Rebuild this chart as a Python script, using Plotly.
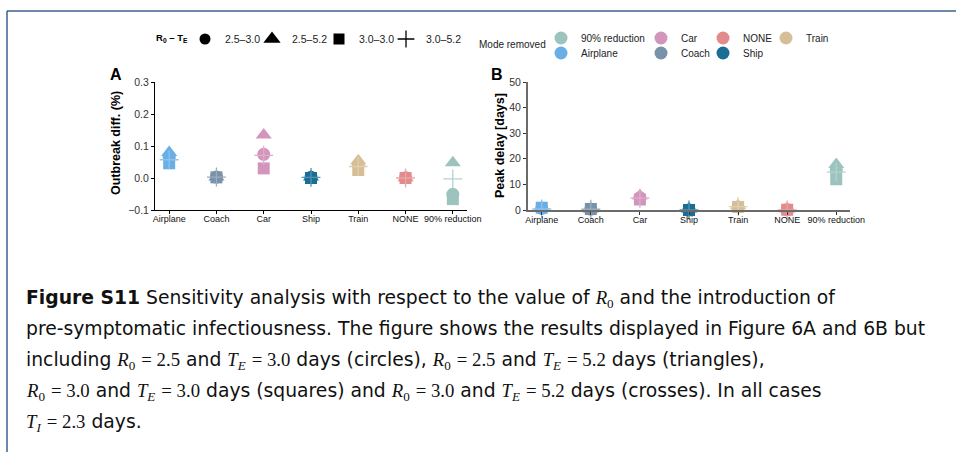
import plotly.graph_objects as go

W, H = 956, 452

categories = ["Airplane", "Coach", "Car", "Ship", "Train", "NONE", "90% reduction"]
mode_colors = {
    "90% reduction": "#9CC3BE",
    "Airplane": "#6AAEE6",
    "Car": "#D395BB",
    "Coach": "#7892AA",
    "NONE": "#E38A8C",
    "Ship": "#1A6E96",
    "Train": "#D6BF97",
}
scenarios = ["2.5–3.0", "2.5–5.2", "3.0–3.0", "3.0–5.2"]

# Panel A: outbreak difference (%)
outbreak_circle = [0.065, 0.003, 0.074, 0.002, 0.040, 0.001, -0.051]
outbreak_triangle = [0.080, 0.003, 0.134, 0.003, 0.054, 0.001, 0.048]
outbreak_square = [0.046, 0.002, 0.030, 0.000, 0.025, 0.000, -0.066]
outbreak_cross = [0.057, 0.003, 0.071, 0.002, 0.036, 0.000, -0.003]

# Panel B: peak delay (days)
delay_circle = [0.6, 0.3, 4.8, 0.0, 1.2, 0.1, 15.5]
delay_triangle = [1.0, 0.4, 5.6, 0.4, 1.7, 0.4, 17.8]
delay_square = [0.9, 0.4, 4.1, 0.0, 1.2, 0.1, 12.0]
delay_cross = [0.4, 0.3, 4.6, 0.0, 1.3, 0.0, 14.8]

yticks_a = [-0.1, 0.0, 0.1, 0.2, 0.3]
yticktext_a = ["−0.1", "0.0", "0.1", "0.2", "0.3"]
yticks_b = [0, 10, 20, 30, 40, 50]

FONT = "Liberation Sans, Arial, sans-serif"
CAPFONT = "DejaVu Sans, Liberation Sans, sans-serif"
SERIF = "Liberation Serif, DejaVu Serif, serif"

shape_styles = [
    ("circle", 13, 0),
    ("triangle-up", 14, 0),
    ("square", 12, 0),
    ("cross-thin", 13.5, 1.3),
]
legend_sizes = [11, 15, 11, 12]


def lighten(hex_color, f):
    h = hex_color.lstrip("#")
    r, g, b = int(h[0:2], 16), int(h[2:4], 16), int(h[4:6], 16)
    r = int(r + (255 - r) * f)
    g = int(g + (255 - g) * f)
    b = int(b + (255 - b) * f)
    return f"#{r:02x}{g:02x}{b:02x}"


fig = go.Figure()

panel_series = [
    ("x", "y", [outbreak_circle, outbreak_triangle, outbreak_square, outbreak_cross]),
    ("x2", "y2", [delay_circle, delay_triangle, delay_square, delay_cross]),
]
colors = [mode_colors[c] for c in categories]
for xa, ya, series in panel_series:
    for (sym, size, lw), vals in zip(shape_styles, series):
        if sym == "cross-thin":
            marker = dict(symbol=sym, size=size, color=colors,
                          line=dict(color=[lighten(c, 0.25) for c in colors], width=lw))
        else:
            marker = dict(symbol=sym, size=size, color=colors, line=dict(width=0))
        fig.add_trace(go.Scatter(
            x=categories, y=vals, xaxis=xa, yaxis=ya, mode="markers",
            marker=marker, showlegend=False, cliponaxis=False, hoverinfo="skip"))

SYM_OFF = 20   # px from legend left edge to symbol centre
LEG_DY = 0     # px correction for legend vertical centring


def legend_box(cx, cy, size=10.5):
    return dict(x=(cx - SYM_OFF) / W, y=1 - (cy - LEG_DY) / H,
                xanchor="left", yanchor="middle", xref="paper", yref="paper",
                bgcolor="rgba(0,0,0,0)", borderwidth=0,
                font=dict(family=FONT, size=size, color="#222"),
                itemclick=False, itemdoubleclick=False)


legend_layouts = {}
n = 0
# Legend: scenario shapes (black), one legend per entry
shape_cx = [205, 272, 339, 406]
for (sym, size, lw), lsz, name, cx in zip(shape_styles, legend_sizes, scenarios, shape_cx):
    lg = "legend" if n == 0 else f"legend{n + 1}"
    m = dict(symbol=sym, size=lsz, color="black",
             line=dict(color="black", width=lw if lw else 0))
    fig.add_trace(go.Scatter(x=[None], y=[None], mode="markers", marker=m, name=name,
                             legend=lg, showlegend=True))
    legend_layouts[lg] = legend_box(cx, 39, 10.5)
    n += 1

# Legend: mode removed (colours), one legend per entry to place on a grid
legend_order = ["90% reduction", "Airplane", "Car", "Coach", "NONE", "Ship", "Train"]
grid_cx = {"90% reduction": 561, "Airplane": 561, "Car": 661, "Coach": 661,
           "NONE": 723, "Ship": 723, "Train": 786}
grid_cy = {"90% reduction": 38, "Airplane": 53, "Car": 38, "Coach": 53,
           "NONE": 38, "Ship": 53, "Train": 38}
for name in legend_order:
    lg = f"legend{n + 1}"
    fig.add_trace(go.Scatter(x=[None], y=[None], mode="markers",
                             marker=dict(symbol="circle", size=13, color=mode_colors[name]),
                             name=name, legend=lg, showlegend=True))
    legend_layouts[lg] = legend_box(grid_cx[name], grid_cy[name], 10)
    n += 1

axis_common = dict(showgrid=False, zeroline=False, showline=True, ticks="outside",
                   ticklen=3, mirror=False)

fig.update_layout(
    width=W, height=H,
    margin=dict(l=0, r=0, t=0, b=0, autoexpand=False),
    paper_bgcolor="white", plot_bgcolor="white",
    font=dict(family=FONT, color="#222"),
    xaxis=dict(domain=[155 / W, 467 / W], range=[-0.3, 6.3], type="category",
               categoryorder="array", categoryarray=categories,
               linecolor="black", linewidth=1, tickcolor="black", ticklabelstandoff=-3,
               tickfont=dict(size=9, color="#111"), **axis_common),
    yaxis=dict(domain=[(H - 210) / H, (H - 82) / H], range=[-0.1, 0.3],
               tickvals=yticks_a, ticktext=yticktext_a,
               linecolor="black", linewidth=1, tickcolor="black",
               tickfont=dict(size=10.5, color="#333"), **axis_common),
    xaxis2=dict(domain=[528 / W, 850 / W], range=[-0.28, 6.28], type="category",
                categoryorder="array", categoryarray=categories, anchor="y2",
                linecolor="#6b6b6b", linewidth=2, tickcolor="#333", ticklabelstandoff=-3,
                tickfont=dict(size=9, color="#111"), **axis_common),
    yaxis2=dict(domain=[(H - 210) / H, (H - 82) / H], range=[0, 50], anchor="x2",
                tickvals=yticks_b, linecolor="#6b6b6b", linewidth=2, tickcolor="#333",
                tickfont=dict(size=10.5, color="#333"), **axis_common),
    **legend_layouts,
)


def px_ann(text, x, y, size, **kw):
    d = dict(text=text, x=x / W, y=1 - y / H, xref="paper", yref="paper",
             showarrow=False, borderpad=0,
             font=dict(family=kw.pop("family", FONT), size=size,
                       color=kw.pop("color", "black")))
    d.update(kw)
    fig.add_annotation(**d)


# Legend titles
px_ann("<b>R<sub>0</sub> – T<sub>E</sub></b>", 155, 38, 9.5, xanchor="left", yanchor="middle")
px_ann("Mode removed", 478, 45, 10, xanchor="left", yanchor="middle", color="#222")

# Panel labels
px_ann("<b>A</b>", 116, 74, 16, xanchor="center", yanchor="middle")
px_ann("<b>B</b>", 497, 74, 16, xanchor="center", yanchor="middle")

# Axis titles
px_ann("<b>Outbreak diff. (%)</b>", 116, 143, 12.5, textangle=-90, xanchor="center", yanchor="middle")
px_ann("<b>Peak delay [days]</b>", 500, 146, 12.5, textangle=-90, xanchor="center", yanchor="middle")


# Caption
def m(s):
    return f'<span style="font-family:{SERIF}">{s}</span>'


R0 = m("<i>R</i><sub>0</sub>")
TE = m("<i>T</i><sub><i>E</i></sub>")
TI = m("<i>T</i><sub><i>I</i></sub>")
caption_lines = [
    f"<b>Figure S11</b> Sensitivity analysis with respect to the value of {R0} and the introduction of",
    "pre-symptomatic infectiousness. The figure shows the results displayed in Figure 6A and 6B but",
    f"including {R0} {m('= 2.5')} and {TE} {m('= 3.0')} days (circles), {R0} {m('= 2.5')} and {TE} {m('= 5.2')} days (triangles),",
    f"{R0} {m('= 3.0')} and {TE} {m('= 3.0')} days (squares) and {R0} {m('= 3.0')} and {TE} {m('= 5.2')} days (crosses). In all cases",
    f"{TI} {m('= 2.3')} days.",
]
for i, line in enumerate(caption_lines):
    px_ann(line, 25, 286 + 31 * i, 18.75, xanchor="left", yanchor="top", color="#111",
           family=CAPFONT)

# Frame lines
frame_color = "#3d5f8f"
fig.add_shape(type="line", xref="paper", yref="paper", x0=7 / W, x1=1, y0=1 - 11 / H, y1=1 - 11 / H,
              line=dict(color=frame_color, width=1.5))
fig.add_shape(type="line", xref="paper", yref="paper", x0=7 / W, x1=7 / W, y0=0, y1=1 - 11 / H,
              line=dict(color=frame_color, width=1.5))

fig.write_html("out.html")
